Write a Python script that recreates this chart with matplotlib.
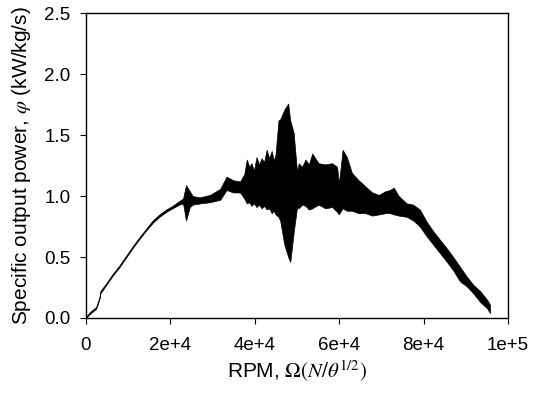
import numpy as np
import matplotlib
matplotlib.use("Agg")
import matplotlib.pyplot as plt

plt.rcParams['font.family'] = ['Liberation Sans', 'DejaVu Sans']
plt.rcParams['mathtext.fontset'] = 'stix'

# rpm (thousands) and envelope of the noisy power trace (kW/kg/s)
rpm_k = [0, 1.0, 2.4, 3.2, 3.4, 4.7, 6.3, 7.9, 9.5, 11.1, 12.6, 14.2, 15.8, 17.4,
         19.0, 20.5, 22.1, 23.0, 23.7, 24.6, 25.3, 27.0, 29.4, 31.8, 33.3, 34.9,
         36.5, 37.5, 38.1, 38.7, 39.2, 39.8, 40.4, 41.0, 41.6, 42.2, 42.8, 43.4,
         44.0, 44.5, 44.9, 45.6, 46.0, 47.0, 47.9, 48.4, 49.2, 50.0, 50.4, 51.2,
         52.0, 52.8, 53.6, 55.1, 56.7, 58.3, 59.5, 59.9, 60.8, 61.8, 63.0, 64.6,
         66.2, 67.8, 69.4, 70.9, 72.0, 72.9, 74.1, 76.0, 77.5, 79.1, 80.7, 82.3,
         83.9, 85.5, 87.0, 88.6, 90.2, 91.8, 93.4, 95.0, 95.7]
upper = [0.01, 0.05, 0.09, 0.17, 0.22, 0.28, 0.36, 0.43, 0.51, 0.59, 0.66, 0.73,
         0.80, 0.85, 0.89, 0.92, 0.96, 0.98, 1.09, 1.04, 1.00, 0.99, 1.01, 1.06,
         1.16, 1.13, 1.12, 1.18, 1.30, 1.24, 1.27, 1.21, 1.32, 1.26, 1.31, 1.28,
         1.38, 1.31, 1.37, 1.29, 1.34, 1.62, 1.63, 1.71, 1.76, 1.62, 1.52, 1.20,
         1.27, 1.24, 1.30, 1.26, 1.35, 1.27, 1.26, 1.27, 1.24, 1.10, 1.38, 1.32,
         1.19, 1.13, 1.08, 1.03, 1.01, 1.04, 1.05, 1.07, 1.00, 0.94, 0.93, 0.89,
         0.79, 0.71, 0.64, 0.57, 0.50, 0.42, 0.34, 0.27, 0.22, 0.15, 0.11]
lower = [0.00, 0.035, 0.075, 0.155, 0.20, 0.265, 0.345, 0.415, 0.495, 0.575,
         0.645, 0.715, 0.78, 0.83, 0.87, 0.90, 0.93, 0.94, 0.80, 0.91, 0.93, 0.94,
         0.95, 0.97, 1.05, 1.03, 1.03, 0.98, 0.94, 0.95, 0.92, 0.94, 0.91, 0.93,
         0.90, 0.92, 0.89, 0.90, 0.86, 0.88, 0.85, 0.83, 0.80, 0.60, 0.50, 0.46,
         0.70, 0.91, 0.90, 0.93, 0.92, 0.89, 0.90, 0.93, 0.90, 0.91, 0.87, 0.85,
         0.90, 0.88, 0.88, 0.86, 0.86, 0.84, 0.85, 0.86, 0.86, 0.85, 0.84, 0.83,
         0.80, 0.75, 0.67, 0.60, 0.53, 0.46, 0.39, 0.30, 0.26, 0.20, 0.13, 0.08,
         0.04]

xticks = [0, 2e4, 4e4, 6e4, 8e4, 1e5]
xtick_labels = ['0', '2e+4', '4e+4', '6e+4', '8e+4', '1e+5']
yticks = [0.0, 0.5, 1.0, 1.5, 2.0, 2.5]
ytick_labels = ['0.0', '0.5', '1.0', '1.5', '2.0', '2.5']

rpm = np.array(rpm_k) * 1000

fig = plt.figure(figsize=(5.44, 3.93), dpi=100)
ax = fig.add_axes([0.158, 0.191, 0.776, 0.775])

ax.fill_between(rpm, lower, upper, color='black', edgecolor='black', lw=0.5)

ax.set_xlim(0, 1e5)
ax.set_ylim(0, 2.5)
ax.set_xticks(xticks)
ax.set_xticklabels(xtick_labels)
ax.set_yticks(yticks)
ax.set_yticklabels(ytick_labels)
ax.tick_params(direction='out', length=4, width=0.8, labelsize=13.5, colors='black')
ax.tick_params(axis='x', pad=10)
ax.tick_params(axis='y', pad=7)
for s in ax.spines.values():
    s.set_linewidth(1.0)
    s.set_color('black')

ax.set_xlabel(r'RPM, $\mathit{\Omega}(N/\theta^{1/2})$', fontsize=15, va='top')
ax.xaxis.set_label_coords(0.5, -0.135)
ax.set_ylabel(r'Specific output power, $\varphi$ (kW/kg/s)', fontsize=15)
ax.yaxis.set_label_coords(-0.125, 0.5)

fig.savefig('out.png', dpi=100)
